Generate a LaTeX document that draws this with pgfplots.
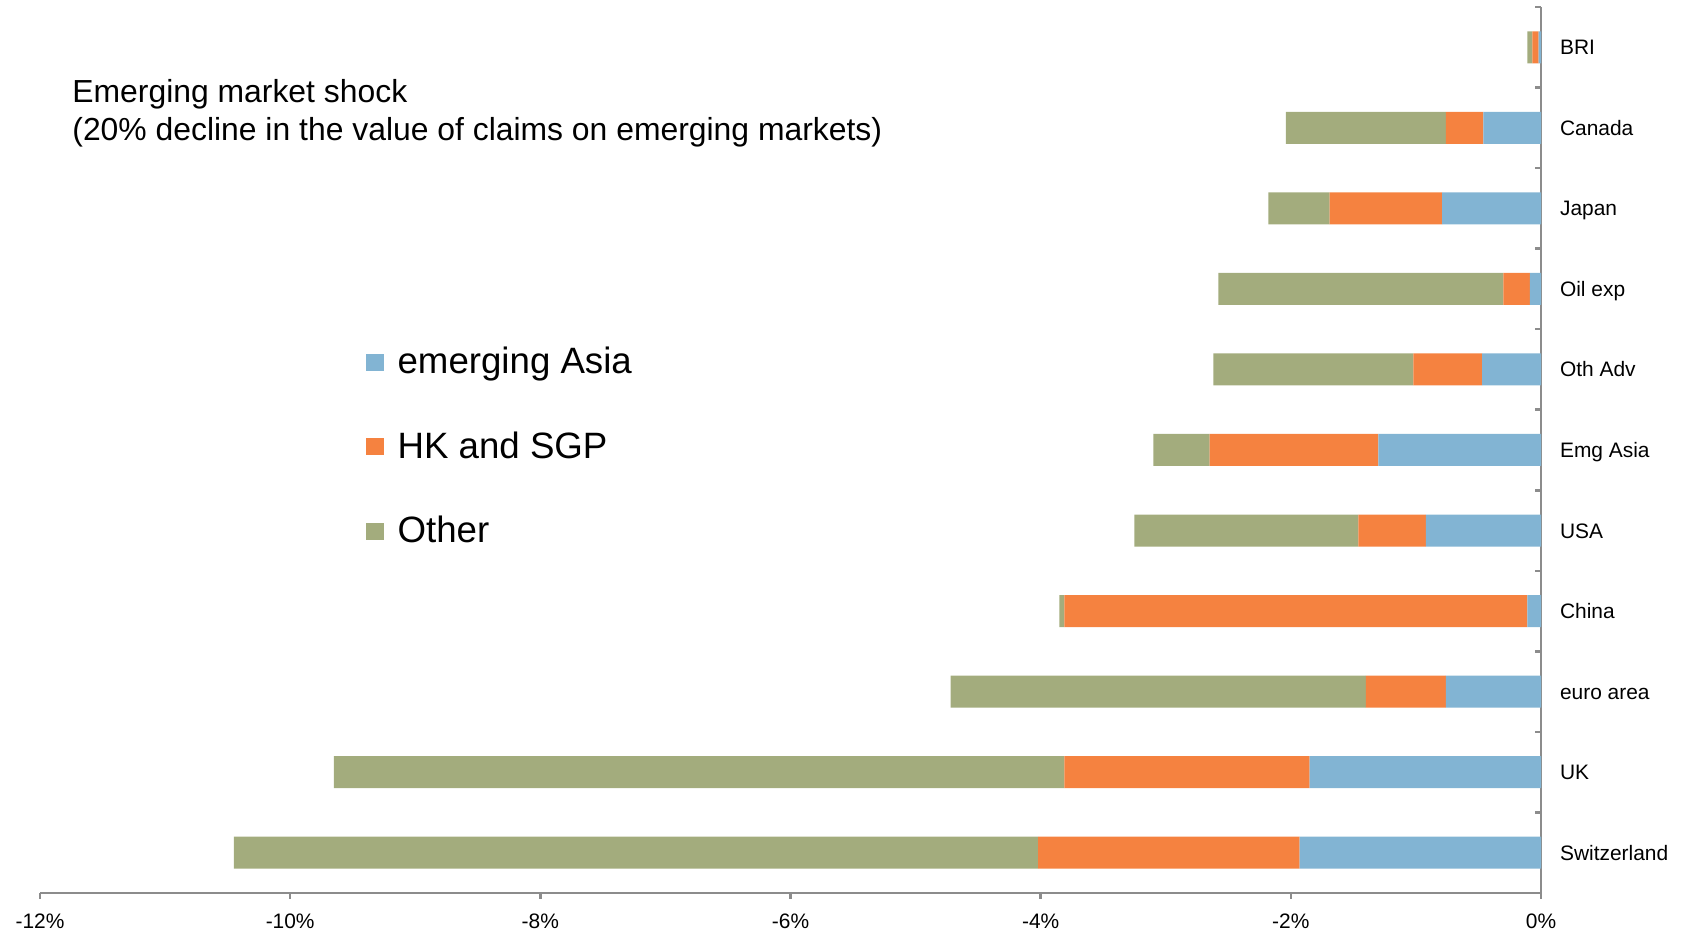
\documentclass[border=0pt]{standalone}
\usepackage{fontspec}
\setmainfont{Liberation Sans}
\usepackage{pgfplots}
\pgfplotsset{compat=1.18}
\definecolor{emgblue}{HTML}{82B4D3}
\definecolor{hkorange}{HTML}{F58240}
\definecolor{othgreen}{HTML}{A3AC7D}
\definecolor{axgray}{HTML}{8C8C8C}

\pgfplotsset{sq legend/.style={legend image code/.code={\fill[##1] (0bp,-4.3bp) rectangle (8.6bp,4.3bp);}}}

\begin{document}
\begin{tikzpicture}
\path[use as bounding box] (-20bp,-19.5bp) rectangle (823bp,446.5bp);
\begin{axis}[
    at={(0,0)}, anchor=south west,
    scale only axis, width=750.5bp, height=443bp,
    xbar stacked, bar width=16bp,
    xmin=-12, xmax=0, ymin=-0.5, ymax=10.5,
    axis x line=bottom, axis y line=right,
    axis line style={-, draw=axgray, line width=1.3bp},
    xtick={-12,-10,-8,-6,-4,-2,0},
    xticklabels={-12\%,-10\%,-8\%,-6\%,-4\%,-2\%,0\%},
    ytick={0,...,10},
    yticklabels={Switzerland,UK,euro area,China,USA,Emg Asia,Oth Adv,Oil exp,Japan,Canada,BRI},
    minor ytick={-0.5,0.5,...,10.5},
    major y tick style={draw=none},
    minor y tick style={draw=axgray, line width=1.3bp},
    major x tick style={draw=axgray, line width=1.3bp},
    xtick align=outside, ytick align=inside,
    major tick length=3bp, minor tick length=3bp,
    ticklabel style={font=\fontsize{10.5}{12}\selectfont},
    yticklabel style={anchor=west, xshift=6bp, text height=7.5bp, text depth=0pt},
    xticklabel style={yshift=-4bp},
    legend style={at={(rel axis cs:0,1)}, anchor=north west, xshift=160bp, yshift=-166bp,
        draw=none, fill=none, font=\fontsize{18.4}{21}\selectfont, row sep=23.5bp,
        cells={anchor=west}, nodes={inner xsep=7bp}},
]
\addplot[fill=emgblue, draw=none, sq legend] coordinates {
    (-1.93,0) (-1.85,1) (-0.76,2) (-0.11,3) (-0.92,4) (-1.30,5)
    (-0.47,6) (-0.09,7) (-0.79,8) (-0.46,9) (-0.02,10)};
\addlegendentry{emerging Asia}
\addplot[fill=hkorange, draw=none, sq legend] coordinates {
    (-2.09,0) (-1.96,1) (-0.64,2) (-3.70,3) (-0.54,4) (-1.35,5)
    (-0.55,6) (-0.21,7) (-0.90,8) (-0.30,9) (-0.05,10)};
\addlegendentry{HK and SGP}
\addplot[fill=othgreen, draw=none, sq legend] coordinates {
    (-6.43,0) (-5.84,1) (-3.32,2) (-0.04,3) (-1.79,4) (-0.45,5)
    (-1.60,6) (-2.28,7) (-0.49,8) (-1.28,9) (-0.04,10)};
\addlegendentry{Other}

\node[anchor=base west, inner sep=0pt, font=\fontsize{16}{19}\selectfont]
    at ([shift={(16bp,-47.6bp)}]rel axis cs:0,1) {Emerging market shock};
\node[anchor=base west, inner sep=0pt, font=\fontsize{16}{19}\selectfont]
    at ([shift={(16bp,-66.6bp)}]rel axis cs:0,1) {(20\% decline in the value of claims on emerging markets)};
\end{axis}
\end{tikzpicture}
\end{document}
